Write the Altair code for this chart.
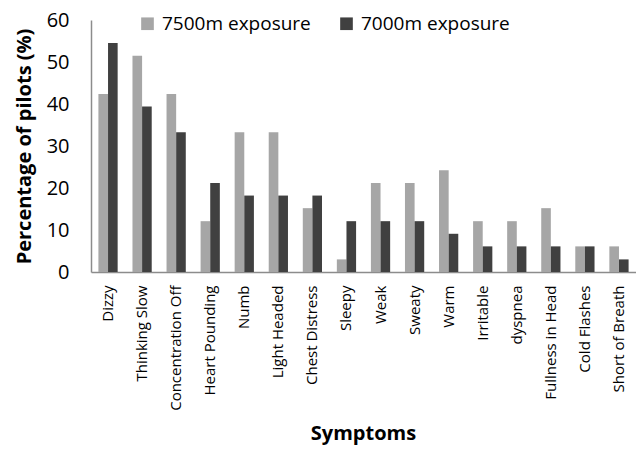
import altair as alt
import pandas as pd

symptoms = ["Dizzy", "Thinking Slow", "Concentration Off", "Heart Pounding", "Numb",
            "Light Headed", "Chest Distress", "Sleepy", "Weak", "Sweaty", "Warm",
            "Irritable", "dyspnea", "Fullness in Head", "Cold Flashes", "Short of Breath"]
exp_7500 = [42.4, 51.5, 42.4, 12.1, 33.3, 33.3, 15.2, 3.0, 21.2, 21.2, 24.2, 12.1, 12.1, 15.2, 6.1, 6.1]
exp_7000 = [54.5, 39.4, 33.3, 21.2, 18.2, 18.2, 18.2, 12.1, 12.1, 12.1, 9.1, 6.1, 6.1, 6.1, 6.1, 3.0]
series = ["7500m exposure", "7000m exposure"]
colors = ["#a6a6a6", "#404040"]

rows = []
for i, s in enumerate(symptoms):
    rows.append({"Symptom": s, "Series": series[0], "Value": exp_7500[i]})
    rows.append({"Symptom": s, "Series": series[1], "Value": exp_7000[i]})
df = pd.DataFrame(rows)

font = "Open Sans"

chart = alt.Chart(df).mark_bar().encode(
    x=alt.X("Symptom:N", sort=symptoms,
            scale=alt.Scale(paddingInner=0.435, paddingOuter=0.2175),
            axis=alt.Axis(title="Symptoms", labelAngle=-90, labelFontSize=15,
                          labelFont=font, labelColor="#000000", labelPadding=13,
                          ticks=False, domainColor="#8c8c8c", domainWidth=1.5,
                          titleFont=font, titleFontSize=20, titleFontWeight="bold",
                          titleColor="#000000", titleX=272, titleY=167,
                          titleAlign="center", titleBaseline="alphabetic")),
    xOffset=alt.XOffset("Series:N", sort=series, scale=alt.Scale(paddingInner=0, paddingOuter=0)),
    y=alt.Y("Value:Q", scale=alt.Scale(domain=[0, 60]),
            axis=alt.Axis(title="Percentage of pilots (%)", values=[0, 10, 20, 30, 40, 50, 60],
                          grid=False, labelFontSize=20, labelFont=font,
                          labelColor="#000000", labelPadding=22, ticks=False,
                          domainColor="#8c8c8c", domainWidth=1.5,
                          titleFont=font, titleFontSize=20, titleFontWeight="bold",
                          titleColor="#000000", titlePadding=12)),
    color=alt.Color("Series:N", sort=series,
                    scale=alt.Scale(domain=series, range=colors),
                    legend=alt.Legend(title=None, orient="none", direction="horizontal",
                                      legendX=47, legendY=-6, symbolType="square",
                                      symbolSize=160, symbolStrokeWidth=0,
                                      labelFontSize=19, labelFont=font,
                                      labelColor="#000000", columnPadding=26,
                                      labelOffset=5)),
).properties(
    width=545, height=252,
    padding={"left": 83, "top": 12, "right": 0, "bottom": 173},
    autosize=alt.AutoSizeParams(type="none"),
).configure_view(stroke=None)

chart.save("out.html", embed_options={"renderer": "svg", "actions": False})
